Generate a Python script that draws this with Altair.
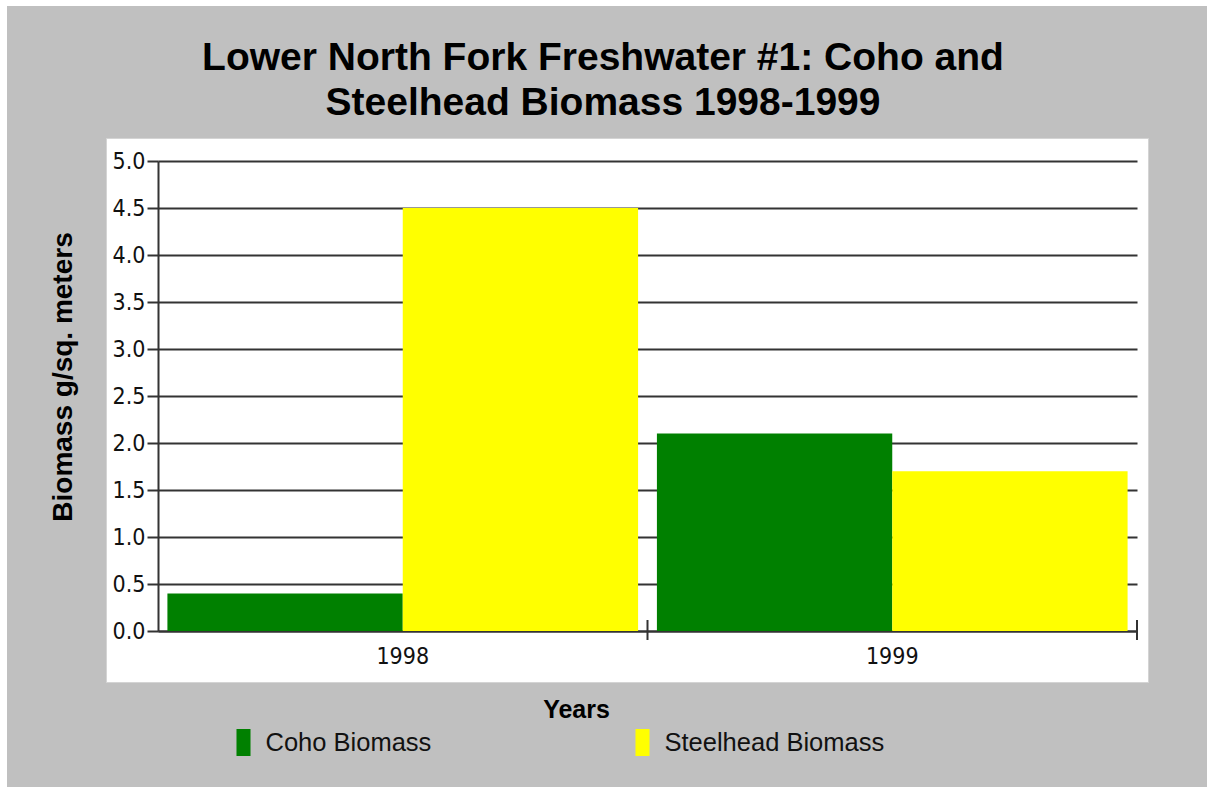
import altair as alt
import pandas as pd

# --- chart values ---------------------------------------------------------
years = ["1998", "1999"]
series = ["Coho Biomass", "Steelhead Biomass"]
coho_biomass = [0.4, 2.1]
steelhead_biomass = [4.5, 1.7]
y_tick_values = [0.0, 0.5, 1.0, 1.5, 2.0, 2.5, 3.0, 3.5, 4.0, 4.5, 5.0]
series_colors = ["#008000", "#FFFF00"]
title_lines = ["Lower North Fork Freshwater #1: Coho and",
               "Steelhead Biomass 1998-1999"]

rows = []
for i, yr in enumerate(years):
    rows.append({"year": yr, "series": series[0], "biomass": coho_biomass[i]})
    rows.append({"year": yr, "series": series[1], "biomass": steelhead_biomass[i]})
df = pd.DataFrame(rows)
tick_df = pd.DataFrame({"year": years})

# --- layout ---------------------------------------------------------------
# The view is the white panel; the plotting region sits inside it via
# explicit scale ranges, with the axes pulled in by negative offsets.
PANEL_W, PANEL_H = 1042, 544
X_RANGE = [52, 1031]
Y_RANGE = [493, 23]
LINE = "#333333"
NARROW = "DejaVu Sans Condensed, Liberation Sans Narrow, Liberation Sans"
SANS = "Liberation Sans"

x_scale = alt.Scale(domain=years, range=X_RANGE, paddingInner=0, paddingOuter=0)
y_scale = alt.Scale(domain=[0, 5], range=Y_RANGE, nice=False, zero=True)

x_axis = alt.Axis(
    title="Years",
    orient="bottom",
    offset=-51,
    labelAngle=0,
    ticks=False,
    tickSize=0,
    grid=False,
    domainColor=LINE,
    domainWidth=2,
    labelPadding=14,
    labelBaseline="top",
    labelFont=NARROW,
    labelFontSize=23,
    labelColor="#111111",
    titleFont=SANS,
    titleFontSize=25,
    titleFontWeight="bold",
    titleColor="#000000",
    titleX=470,
    titleY=86,
    titleAlign="center",
    titleBaseline="alphabetic",
)

bars = alt.Chart(df).mark_bar().encode(
    x=alt.X("year:N", scale=x_scale, sort=years, axis=x_axis),
    xOffset=alt.XOffset(
        "series:N",
        sort=series,
        scale=alt.Scale(domain=series, paddingInner=0, paddingOuter=0.04),
    ),
    y=alt.Y(
        "biomass:Q",
        scale=y_scale,
        axis=alt.Axis(
            title="Biomass g/sq. meters",
            orient="left",
            offset=-52,
            values=y_tick_values,
            format=".1f",
            grid=True,
            gridColor=LINE,
            gridWidth=2,
            gridOpacity=1,
            domainColor=LINE,
            domainWidth=2,
            tickColor=LINE,
            tickWidth=2,
            tickSize=11,
            labelPadding=2,
            labelFont=NARROW,
            labelFontSize=23,
            labelColor="#111111",
            labelOverlap=False,
            labelFlush=False,
            titleFont=SANS,
            titleFontSize=28,
            titleFontWeight="bold",
            titleColor="#000000",
            titleX=-95,
            titleY=238.5,
            titleAngle=270,
            titleAlign="center",
            titleBaseline="middle",
        ),
    ),
    color=alt.Color(
        "series:N",
        sort=series,
        scale=alt.Scale(domain=series, range=series_colors),
        legend=alt.Legend(
            title=None,
            orient="none",
            legendX=124,
            legendY=591,
            direction="horizontal",
            symbolType="M-0.52,-1L0.52,-1L0.52,1L-0.52,1Z",
            symbolSize=729,
            symbolStrokeWidth=0,
            symbolOpacity=1,
            labelFont=SANS,
            labelFontSize=25.5,
            labelColor="#111111",
            labelOffset=8.5,
            labelLimit=400,
            columnPadding=197,
            padding=0,
        ),
    ),
)

# Category separators on the x axis, at the right edge of each year band
x_ticks = alt.Chart(tick_df).mark_rule(color=LINE, strokeWidth=2).encode(
    x=alt.X("year:N", bandPosition=1, sort=years, axis=x_axis),
    y=alt.value(482),
    y2=alt.value(502),
)

blank = alt.Data(values=[{}])

title = alt.Chart(blank).mark_text(
    text=title_lines,
    font=SANS,
    fontSize=39,
    fontWeight="bold",
    align="center",
    baseline="alphabetic",
    lineHeight=45,
    color="#000000",
).encode(x=alt.value(497), y=alt.value(-68))

# thin white margin along the top and left edges of the page
edge_top = alt.Chart(blank).mark_rect(color="white").encode(
    x=alt.value(-106), x2=alt.value(1101), y=alt.value(-138), y2=alt.value(-132)
)
edge_left = alt.Chart(blank).mark_rect(color="white").encode(
    x=alt.value(-106), x2=alt.value(-99), y=alt.value(-138), y2=alt.value(649)
)

chart = (
    alt.layer(edge_top, edge_left, bars, x_ticks, title)
    .properties(
        width=PANEL_W,
        height=PANEL_H,
        autosize=alt.AutoSizeParams(type="none"),
        padding={"left": 106, "top": 138, "right": 59, "bottom": 105},
        background="#C0C0C0",
    )
    .configure_view(fill="white", stroke="#d4d4d4", strokeWidth=1)
)

chart.save("out.html", embed_options={"renderer": "svg", "actions": False})
